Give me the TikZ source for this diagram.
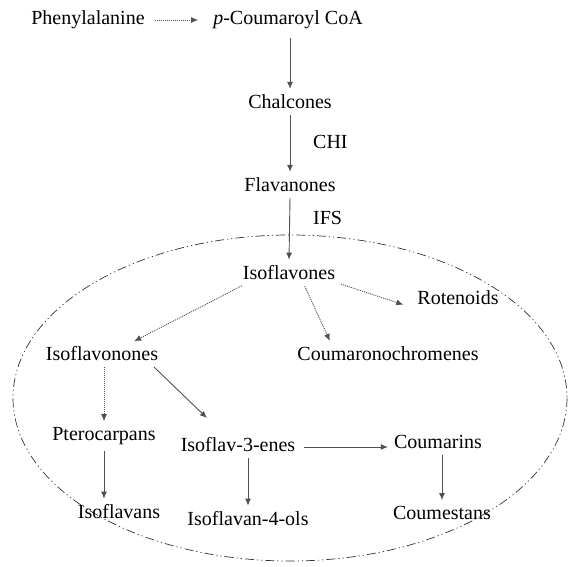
\documentclass[tikz,border=0pt]{standalone}
\usepackage{fontspec}
\setmainfont{Liberation Serif}
\usetikzlibrary{arrows.meta}
\usepackage{xcolor}
\definecolor{ColLine}{RGB}{80,80,80}
\tikzstyle{NodeText}=[inner sep=5pt,font=\fontsize{20}{24}\selectfont]
\tikzstyle{EdgeSolid}=[ColLine,line width=0.9pt,-{Latex[length=7pt,width=6pt]},shorten <=1pt,shorten >=1pt]
\tikzstyle{EdgeDot}=[EdgeSolid,dash pattern=on 1pt off 1pt]
\tikzstyle{Border}=[black!80,line width=0.7pt,dash pattern=on 9pt off 3pt on 1.2pt off 3pt on 1.2pt off 3pt]

\begin{document}
\begin{tikzpicture}[x=1pt,y=-1pt]
        \useasboundingbox(0,0)rectangle(573,567);
        \draw[Border](290,398)ellipse[x radius=277,y radius=163];
        \node[NodeText](phe)at(88,20){Phenylalanine};
        \node[NodeText](cou)at(288,20){\textit{p}-Coumaroyl CoA};
        \node[NodeText](cha)at(290,102){Chalcones};
        \node[NodeText](fla)at(290,185){Flavanones};
        \node[NodeText](iso)at(289,273){Isoflavones};
        \node[NodeText](rot)at(458,298){Rotenoids};
        \node[NodeText](ifn)at(102,354){Isoflavonones};
        \node[NodeText](cmc)at(388,354){Coumaronochromenes};
        \node[NodeText](pte)at(104,436){Pterocarpans};
        \node[NodeText](ife)at(238,445){Isoflav-3-enes};
        \node[NodeText](cmr)at(438,442){Coumarins};
        \node[NodeText](ifv)at(119,512){Isoflavans};
        \node[NodeText](ifo)at(248,519){Isoflavan-4-ols};
        \node[NodeText](cms)at(442,513){Coumestans};
        \node[NodeText,anchor=west](chi)at(308,142){CHI};
        \node[NodeText,anchor=west](ifs)at(308,218){IFS};
        \draw[EdgeDot,shorten <=5pt,shorten >=10pt](phe.east)--(cou.west);
        \draw[EdgeSolid,shorten <=4pt](cou.south-|cha.north)--(cha.north);
        \draw[EdgeSolid](cha.south)--(fla.north);
        \draw[EdgeSolid](fla.south)--(iso.north);
        \draw[EdgeDot](iso.-12)--([xshift=-8pt,yshift=-7pt]rot.west);
        \draw[EdgeDot]([xshift=-36pt]iso.south east)--([xshift=38pt]cmc.north west);
        \draw[EdgeDot]([xshift=5pt]iso.south west)--([xshift=-30pt]ifn.north east);
        \draw[EdgeDot](pte.north|-ifn.south)--(pte.north);
        \draw[EdgeSolid]([xshift=-10pt]ifn.south east)--([xshift=32pt,yshift=14pt]ife.north west);
        \draw[EdgeSolid](pte.south)--(pte.south|-ifv.north);
        \draw[EdgeSolid](ifo.north|-ife.south)--(ifo.north);
        \draw[EdgeSolid,shorten <=4pt]([yshift=-2pt]ife.east)--([yshift=-2pt]ife.east-|cmr.west);
        \draw[EdgeSolid](cms.north|-cmr.south)--(cms.north);
    \end{tikzpicture}
\end{document}
